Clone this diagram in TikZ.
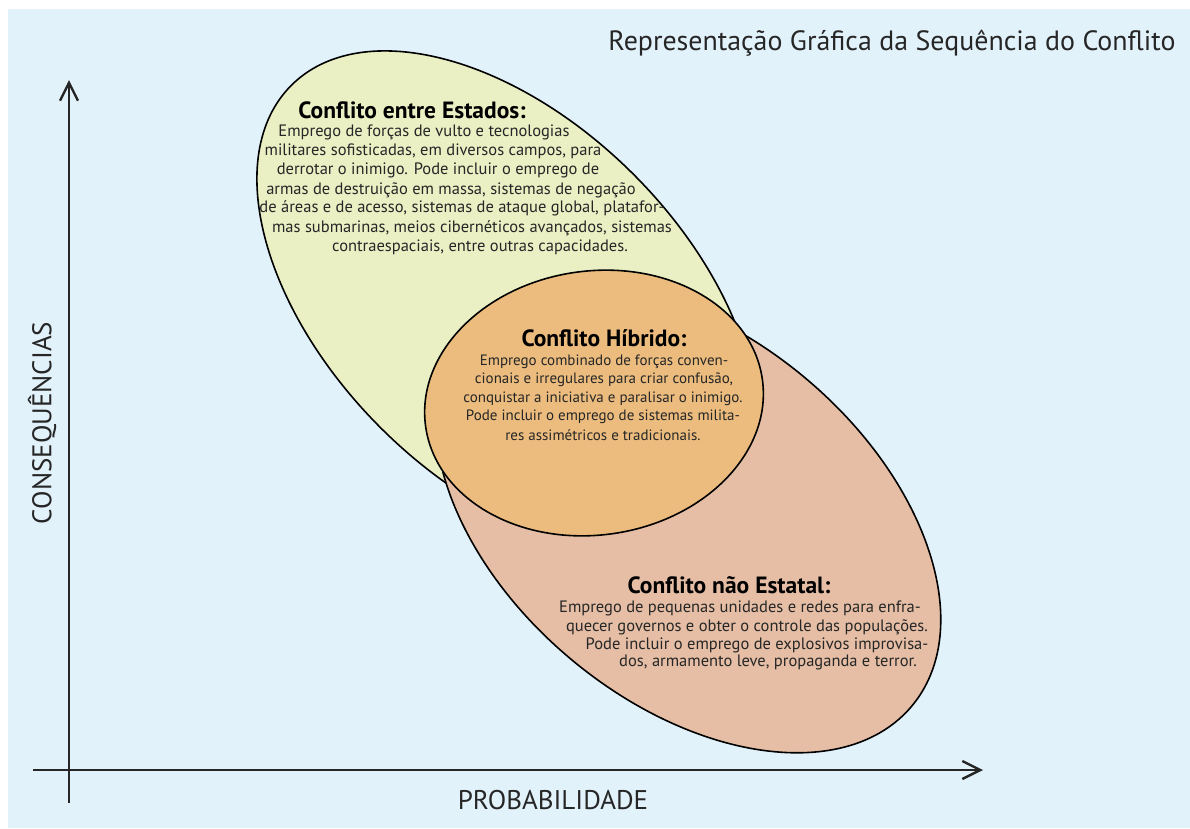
\documentclass[tikz,border=0pt]{standalone}
\usepackage{fontspec}
\setmainfont{PT Sans}
\usetikzlibrary{arrows.meta,calc}
\definecolor{fundo}{HTML}{E2F2FB}
\definecolor{amarelo}{HTML}{EAF0C4}
\definecolor{laranja}{HTML}{EBBC7E}
\definecolor{salmao}{HTML}{E5BEA5}
\definecolor{texto}{HTML}{262626}
\begin{document}
\begin{tikzpicture}[x=1pt,y=-1pt,
    elipse/.style={draw=black,line width=1.6pt},
    eixo/.style={line width=2.4pt,draw=black!85,-{Straight Barb[length=18pt,width=18pt]}},
    titulo/.style={font=\fontsize{23.5}{26}\selectfont\bfseries,text=black,inner sep=0pt},
    corpo/.style={font=\fontsize{16.5}{19}\selectfont,text=texto,inner sep=0pt},
    corpomenor/.style={corpo,font=\fontsize{15}{18}\selectfont},
    rotulo/.style={font=\fontsize{27}{30}\selectfont,text=black!85,inner sep=0pt}]
    \useasboundingbox (0,0) rectangle (1190,828);
    \fill[white] (0,0) rectangle (1190,828);
    \fill[fundo] (8,9) rectangle (1190,828);
    % elipses
    \coordinate (tripA) at (443,472);
    \coordinate (tripB) at (742,332);
    \filldraw[elipse,fill=amarelo,rotate around={-45:(507,301)}] (507,301) ellipse [x radius=305, y radius=179];
    \begin{scope}
      \clip ($(tripA)!-2!(tripB)$) -- ($(tripA)!3!(tripB)$) -- (1300,900) -- (-300,900) -- cycle;
      \filldraw[elipse,fill=salmao,rotate around={-40:(688,518.5)}] (688,518.5) ellipse [x radius=292, y radius=183];
    \end{scope}
    \filldraw[elipse,fill=laranja,rotate around={8:(594,403)}] (594,403) ellipse [x radius=170, y radius=132];
    % textos
    \node[rotulo,font=\fontsize{27.9}{30}\selectfont] (titulo) at (892,43) {Representação Gráfica da Sequência do Conflito};
    \node[titulo] (estados) at (412,110) {Conflito entre Estados:};
    \foreach \x/\y/\t [count=\i] in {424/132/{Emprego de forças de vulto e tecnologias},
        433/151/{militares sofisticadas, em diversos campos, para},
        438/170/{derrotar o inimigo. Pode incluir o emprego de},
        451/190/{armas de destruição em massa, sistemas de negação},
        462/208/{de áreas e de acesso, sistemas de ataque global, platafor-},
        472/228/{mas submarinas, meios cibernéticos avançados, sistemas},
        480/247/{contraespaciais, entre outras capacidades.}}
      \node[corpo] (estados-\i) at (\x,\y) {\t};
    \node[titulo] (hibrido) at (604,338) {Conflito Híbrido:};
    \foreach \x/\y/\t [count=\i] in {604/362/{Emprego combinado de forças conven-},
        604/380/{cionais e irregulares para criar confusão,},
        603/399/{conquistar a iniciativa e paralisar o inimigo.},
        603/417/{Pode incluir o emprego de sistemas milita-},
        603/435/{res assimétricos e tradicionais.}}
      \node[corpomenor] (hibrido-\i) at (\x,\y) {\t};
    \node[titulo] (naoestatal) at (729,585) {Conflito não Estatal:};
    \foreach \x/\y/\t [count=\i] in {740/608/{Emprego de pequenas unidades e redes para enfra-},
        747/627/{quecer governos e obter o controle das populações.},
        757/645/{Pode incluir o emprego de explosivos improvisa-},
        768/662/{dos, armamento leve, propaganda e terror.}}
      \node[corpo] (naoestatal-\i) at (\x,\y) {\t};
    % eixos
    \coordinate (ybase) at (69,803);
    \coordinate (ytopo) at (69,80);
    \coordinate (xbase) at (33,770);
    \coordinate (xfim) at (983,770);
    \draw[eixo] (ybase) -- (ytopo);
    \draw[eixo] (xbase) -- (xfim);
    \node[rotulo,rotate=90] (consequencias) at (42,423) {CONSEQUÊNCIAS};
    \node[rotulo] (probabilidade) at (553,800) {PROBABILIDADE};
\end{tikzpicture}
\end{document}
